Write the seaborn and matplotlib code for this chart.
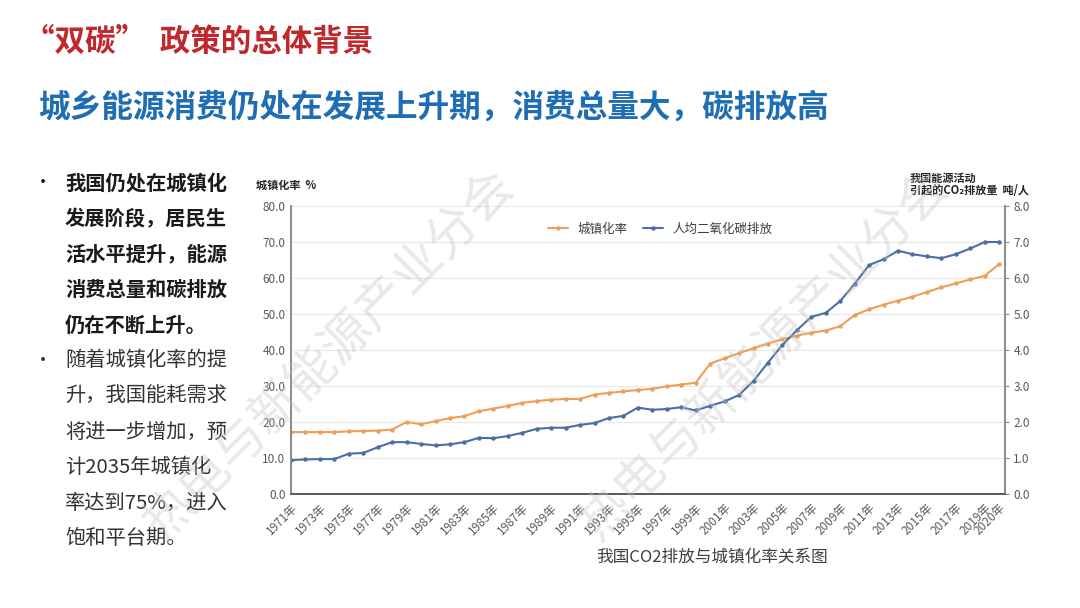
import matplotlib
matplotlib.use("Agg")
import matplotlib.pyplot as plt
import seaborn as sns
import pandas as pd
import numpy as np

# data
years = list(range(1971, 2021))
urban_rate = [17.2, 17.2, 17.2, 17.2, 17.4, 17.5, 17.6, 17.9, 20.0, 19.4,
              20.2, 21.1, 21.6, 23.0, 23.7, 24.5, 25.3, 25.8, 26.2, 26.4,
              26.4, 27.6, 28.1, 28.5, 28.9, 29.2, 29.9, 30.4, 30.9, 36.2,
              37.7, 39.1, 40.5, 41.8, 43.0, 44.0, 44.8, 45.4, 46.6, 49.7,
              51.3, 52.6, 53.7, 54.8, 56.1, 57.4, 58.5, 59.6, 60.6, 63.9]
co2_per_capita = [0.94, 0.96, 0.97, 0.97, 1.12, 1.14, 1.30, 1.44, 1.44, 1.39,
                  1.35, 1.38, 1.44, 1.56, 1.55, 1.61, 1.70, 1.81, 1.84, 1.84,
                  1.92, 1.97, 2.11, 2.17, 2.40, 2.34, 2.36, 2.41, 2.32, 2.45,
                  2.57, 2.75, 3.14, 3.65, 4.14, 4.55, 4.92, 5.03, 5.36, 5.84,
                  6.36, 6.52, 6.76, 6.66, 6.60, 6.55, 6.66, 6.82, 7.00, 7.00]
tick_years = list(range(1971, 2020, 2)) + [2020]
tick_labels = [f"{y}年" for y in tick_years]
left_ticks = [0, 10, 20, 30, 40, 50, 60, 70, 80]
right_ticks = [0, 1, 2, 3, 4, 5, 6, 7, 8]

df = pd.DataFrame({"year": years, "urban": urban_rate, "co2": co2_per_capita})

sns.set_theme(style="white")
plt.rcParams['font.family'] = ['Noto Sans CJK SC', 'DejaVu Sans']

orange = "#EE9F55"
blue = "#4A6FA5"
tick_col = "#595959"

fig = plt.figure(figsize=(10.8, 6.08), dpi=100)
fig.patch.set_facecolor("white")
ax = fig.add_axes([291/1080, 1-494/608, (1005-291)/1080, (494-206)/608])
ax2 = ax.twinx()

sns.lineplot(data=df, x="year", y="urban", ax=ax, color=orange, lw=1.5,
             marker="o", markersize=3.2, markeredgewidth=0, label="城镇化率", legend=False)
sns.lineplot(data=df, x="year", y="co2", ax=ax2, color=blue, lw=1.5,
             marker="o", markersize=3.2, markeredgewidth=0, label="人均二氧化碳排放", legend=False)

ax.set_xlim(1971, 2020.4)
ax.set_ylim(0, 80)
ax2.set_ylim(0, 8)
ax.set_yticks(left_ticks)
ax.set_yticklabels([f"{v:.1f}" for v in left_ticks], fontsize=8.5, color=tick_col)
ax2.set_yticks(right_ticks)
ax2.set_yticklabels([f"{v:.1f}" for v in right_ticks], fontsize=8.5, color=tick_col)
ax.set_xticks(tick_years)
ax.set_xticklabels(tick_labels, rotation=45, ha="right", rotation_mode="anchor",
                   fontsize=8.5, color=tick_col)
ax.set_xlabel("")
ax.set_ylabel("")
ax2.set_ylabel("")

ax.grid(axis="y", color="#e8e8e8", lw=0.8)
ax.set_axisbelow(True)
for a in (ax, ax2):
    a.spines["top"].set_visible(False)
    a.spines["left"].set_color("#8c8c8c")
    a.spines["right"].set_color("#8c8c8c")
    a.spines["bottom"].set_color("#595959")
ax.tick_params(axis="x", direction="out", length=3, width=0.8, color="#595959", pad=2)
ax.tick_params(axis="y", length=0, pad=4)
ax2.tick_params(axis="y", direction="out", length=3, width=0.8, color="#8c8c8c", pad=3)

h1, l1 = ax.get_legend_handles_labels()
h2, l2 = ax2.get_legend_handles_labels()
fig.legend(h1 + h2, l1 + l2, loc="center", bbox_to_anchor=(660/1080, 1-229/608),
           ncol=2, frameon=False, fontsize=9, handlelength=1.6, columnspacing=1.2,
           labelcolor="#404040")

# axis titles
fig.text(256/1080, 1-185/608, "城镇化率  %", fontsize=8, weight="bold", color="#262626",
         va="center", ha="left")
fig.text(910/1080, 1-178/608, "我国能源活动", fontsize=8, weight="bold", color="#262626",
         va="center", ha="left")
fig.text(910/1080, 1-191/608, "引起的CO₂排放量  吨/人", fontsize=8, weight="bold",
         color="#262626", va="center", ha="left")

# caption
fig.text(712/1080, 1-557/608, "我国CO2排放与城镇化率关系图", fontsize=12, color="#404040",
         ha="center", va="center")

# slide titles
fig.text(24/1080, 1-42/608, "“双碳”  政策的总体背景", fontsize=22, weight="bold",
         color="#C0282D", ha="left", va="center")
fig.text(38/1080, 1-108/608, "城乡能源消费仍处在发展上升期，消费总量大，碳排放高",
         fontsize=22.8, weight="bold", color="#1F6DB3", ha="left", va="center")

# bullet texts
bold_lines = ["我国仍处在城镇化", "发展阶段，居民生", "活水平提升，能源", "消费总量和碳排放", "仍在不断上升。"]
normal_lines = ["随着城镇化率的提", "升，我国能耗需求", "将进一步增加，预", "计2035年城镇化", "率达到75%，进入", "饱和平台期。"]
y0 = 183
step = 35.6
for i, line in enumerate(bold_lines):
    fig.text(65/1080, 1-(y0 + i*step)/608, line, fontsize=14.6, weight="bold",
             color="#1a1a1a", ha="left", va="center")
for i, line in enumerate(normal_lines):
    fig.text(65/1080, 1-(y0 + (i+5)*step)/608, line, fontsize=14.6,
             color="#333333", ha="left", va="center")
fig.text(43/1080, 1-y0/608, "•", fontsize=13, color="#1a1a1a", ha="center", va="center")
fig.text(43/1080, 1-(y0 + 5*step)/608, "•", fontsize=13, color="#333333", ha="center", va="center")

# watermarks
for cx in (330, 765):
    fig.text(cx/1080, 1-355/608, "热电与新能源产业分会", fontsize=36, color="#c4c4c4",
             alpha=0.38, rotation=45, ha="center", va="center", rotation_mode="anchor")

fig.savefig("out.png", dpi=100, facecolor="white")
